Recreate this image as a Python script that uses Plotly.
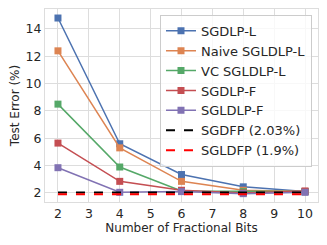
import plotly.graph_objects as go

bits = [2, 4, 6, 8, 10]
sgdlp_l = [14.8, 5.6, 3.35, 2.45, 2.1]
naive_sgldlp_l = [12.4, 5.3, 2.85, 2.2, 2.1]
vc_sgldlp_l = [8.5, 3.9, 2.15, 2.1, 2.1]
sgdlp_f = [5.65, 2.85, 2.2, 2.0, 2.15]
sgldlp_f = [3.85, 2.05, 2.1, 1.95, 2.05]
sgdfp = 2.03
sgldfp = 1.9

series = [
    ("SGDLP-L", sgdlp_l, "#4C72B0"),
    ("Naive SGLDLP-L", naive_sgldlp_l, "#DD8452"),
    ("VC SGLDLP-L", vc_sgldlp_l, "#55A868"),
    ("SGDLP-F", sgdlp_f, "#C44E52"),
    ("SGLDLP-F", sgldlp_f, "#8172B3"),
]

fig = go.Figure()
for name, ys, c in series:
    fig.add_trace(go.Scatter(x=bits, y=ys, name=name, mode="lines+markers",
                             line=dict(color=c, width=1.5),
                             marker=dict(symbol="square", size=7, color=c)))
fig.add_trace(go.Scatter(x=[bits[0], bits[-1]], y=[sgdfp, sgdfp], name="SGDFP (2.03%)",
                         mode="lines", line=dict(color="black", width=2, dash="dash")))
fig.add_trace(go.Scatter(x=[bits[0], bits[-1]], y=[sgldfp, sgldfp], name="SGLDFP (1.9%)",
                         mode="lines", line=dict(color="red", width=2, dash="dash")))

fig.update_layout(
    width=327, height=245,
    margin=dict(l=45, r=9, t=9, b=43, autoexpand=False),
    paper_bgcolor="white", plot_bgcolor="white",
    font=dict(family="DejaVu Sans", size=12, color="#262626"),
    showlegend=True,
    legend=dict(x=0.978, y=0.97, xanchor="right", yanchor="top",
                bgcolor="rgba(255,255,255,0.8)", bordercolor="#cccccc", borderwidth=1,
                font=dict(size=13), tracegroupgap=0, itemwidth=30),
    xaxis=dict(range=[1.58, 10.42], tickvals=[2, 3, 4, 5, 6, 7, 8, 9, 10],
               showgrid=True, gridcolor="#dddddd", zeroline=False,
               showline=True, linecolor="#dddddd", mirror=True, ticks="",
               tickfont=dict(size=12.5),
               title=dict(text="Number of Fractional Bits", standoff=3, font=dict(size=12))),
    yaxis=dict(range=[1.34, 15.46], tickvals=[2, 4, 6, 8, 10, 12, 14],
               showgrid=True, gridcolor="#dddddd", zeroline=False,
               showline=True, linecolor="#dddddd", mirror=True, ticks="",
               tickfont=dict(size=12.5),
               title=dict(text="Test Error (%)", standoff=3, font=dict(size=12))),
)
fig.write_html("out.html", config={"displayModeBar": False},
               post_script="document.body.style.margin='0px';")
